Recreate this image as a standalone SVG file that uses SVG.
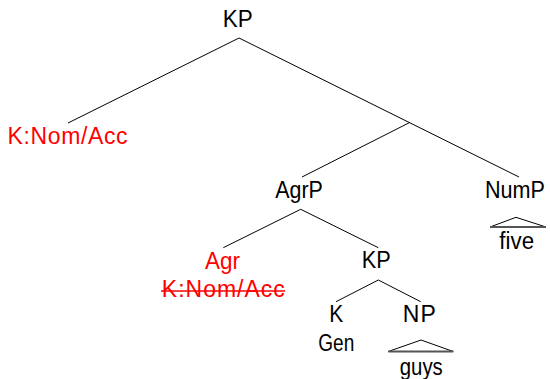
<svg xmlns="http://www.w3.org/2000/svg" width="550" height="379" viewBox="0 0 550 379">
<style>
.lbl{font-family:"Liberation Sans",Arial,sans-serif;font-size:23px;text-anchor:middle;fill:#000}
.red{fill:#ff0000}
.edge{stroke:#000;stroke-width:1;fill:none}
.tri{stroke:#000;stroke-width:1;fill:none}
.base{stroke:#555;stroke-width:1.8}
.strike{stroke:#ff0000;stroke-width:1.4}
</style>
<rect width="550" height="379" fill="#fff"/>
<g id="connectors">
<line class="edge" x1="239" y1="38" x2="68" y2="123"/>
<line class="edge" x1="239" y1="38" x2="519" y2="177"/>
<line class="edge" x1="409.3" y1="122.7" x2="302" y2="177"/>
<line class="edge" x1="300.7" y1="209.3" x2="223.3" y2="247.7"/>
<line class="edge" x1="300.7" y1="209.3" x2="378.3" y2="247.7"/>
<line class="edge" x1="378.3" y1="280" x2="336" y2="301.7"/>
<line class="edge" x1="378.3" y1="280" x2="420.7" y2="301.7"/>
</g>
<g id="node-KP-root"><text class="lbl" x="237.7" y="26.7" textLength="30" lengthAdjust="spacingAndGlyphs">KP</text></g>
<g id="node-K-NomAcc"><text class="lbl red" x="67.5" y="144.3" textLength="120" lengthAdjust="spacing">K:Nom/Acc</text></g>
<g id="node-AgrP"><text class="lbl" x="299" y="197.5" textLength="47.7" lengthAdjust="spacingAndGlyphs">AgrP</text></g>
<g id="node-NumP">
<text class="lbl" x="515" y="197.5" textLength="60" lengthAdjust="spacingAndGlyphs">NumP</text>
<polyline class="tri" points="490,227 516,217.3 546,227"/>
<line class="base" x1="490" y1="227" x2="546" y2="227"/>
<text class="lbl" x="516.7" y="248.5" textLength="34.7" lengthAdjust="spacingAndGlyphs">five</text>
</g>
<g id="node-Agr">
<text class="lbl red" x="222.5" y="269" textLength="35" lengthAdjust="spacingAndGlyphs">Agr</text>
<text class="lbl red" x="223.3" y="296.7" textLength="123" lengthAdjust="spacing">K:Nom/Acc</text>
<line class="strike" x1="161" y1="291" x2="285" y2="291"/>
</g>
<g id="node-KP"><text class="lbl" x="376.2" y="267.7" textLength="29" lengthAdjust="spacingAndGlyphs">KP</text></g>
<g id="node-K">
<text class="lbl" x="336.3" y="321.8" textLength="14" lengthAdjust="spacingAndGlyphs">K</text>
<text class="lbl" x="336.3" y="351.2" textLength="36" lengthAdjust="spacingAndGlyphs">Gen</text>
</g>
<g id="node-NP">
<text class="lbl" x="419.3" y="321.8" textLength="33.3" lengthAdjust="spacing">NP</text>
<polyline class="tri" points="388.3,351.5 421,340 453.3,351.5"/>
<line class="base" x1="388.3" y1="351.5" x2="453.3" y2="351.5"/>
<text class="lbl" x="421.3" y="374.5" textLength="43" lengthAdjust="spacingAndGlyphs">guys</text>
</g>
</svg>
